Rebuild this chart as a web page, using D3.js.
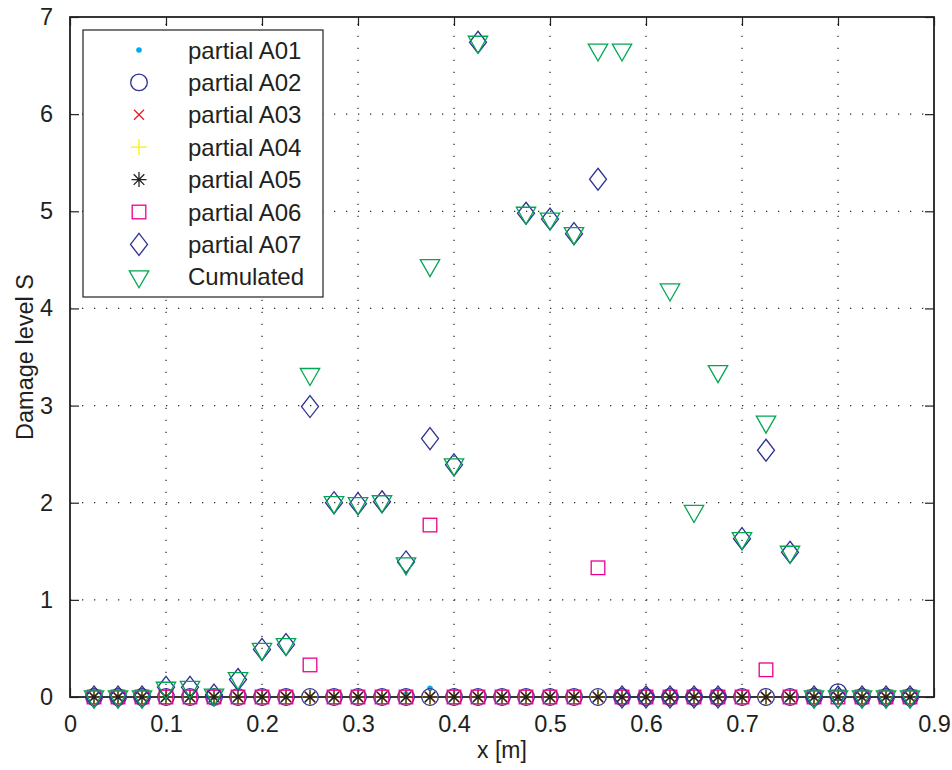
<!DOCTYPE html>
<html>
<head>
<meta charset="utf-8">
<script src="https://cdn.jsdelivr.net/npm/d3@7"></script>
<style>
  body { margin: 0; background: #fff; }
  text { font-family: "Liberation Sans", Arial, Helvetica, sans-serif; fill: #231f20; }
</style>
</head>
<body>
<div id="chart"></div>
<script>
// data
const xs = [0.025, 0.05, 0.075, 0.1, 0.125, 0.15, 0.175, 0.2, 0.225, 0.25, 0.275, 0.3, 0.325, 0.35, 0.375,
            0.4, 0.425, 0.45, 0.475, 0.5, 0.525, 0.55, 0.575, 0.6, 0.625, 0.65, 0.675, 0.7, 0.725, 0.75,
            0.775, 0.8, 0.825, 0.85, 0.875];
const partialA01 = [0, 0, 0, 0, 0, 0, 0, 0, 0, 0, 0, 0, 0, 0.03, 0.09, 0, 0, 0, 0, 0, 0, 0, 0, 0, 0, 0, 0, 0, 0, 0, 0, 0, 0, 0, 0];
const partialA02 = [0, 0, 0, 0, 0, 0, 0, 0, 0, 0, 0, 0, 0, 0, 0, 0, 0, 0, 0, 0, 0, 0, 0, 0, 0, 0, 0, 0, 0, 0, 0, 0.05, 0, 0, 0];
const partialA03 = [0, 0, 0, 0, 0, 0, 0, 0, 0, 0, 0, 0, 0, 0, 0, 0, 0, 0, 0, 0, 0, 0, 0, 0, 0, 0, 0, 0, 0, 0, 0, 0, 0, 0, 0];
const partialA04 = [0, 0, 0, 0, 0, 0, 0, 0, 0, 0, 0, 0, 0, 0, 0, 0, 0, 0, 0, 0, 0, 0, 0, 0, 0, 0, 0, 0, 0, 0, 0, 0, 0, 0, 0];
const partialA05 = [0, 0, 0, 0, 0, 0, 0, 0, 0, 0, 0, 0, 0, 0, 0, 0, 0, 0, 0, 0, 0, 0, 0, 0, 0, 0, 0, 0, 0, 0, 0, 0, 0, 0, 0];
const partialA06 = [0, 0, 0, 0, 0, 0, 0, 0, 0, 0.33, 0, 0, 0, 0, 1.77, 0, 0, 0, 0, 0, 0, 1.33, 0, 0, 0, 0, 0, 0, 0.28, 0, 0, 0, 0, 0, 0];
const partialA07 = [0, 0, 0, 0.1, 0.1, 0.02, 0.18, 0.49, 0.54, 2.99, 2.0, 1.99, 2.01, 1.39, 2.66, 2.39, 6.74, null, 4.98,
                    4.92, 4.77, 5.33, 0, 0, 0, 0, 0, 1.63, 2.54, 1.49, 0, 0, 0, 0, 0];
const cumulated = [0, 0, 0, 0.09, 0.1, 0.02, 0.19, 0.49, 0.54, 3.32, 2.0, 1.99, 2.01, 1.37, 4.44, 2.39, 6.74, null, 4.98,
                   4.92, 4.77, 6.66, 6.66, null, 4.19, 1.91, 3.35, 1.63, 2.83, 1.49, 0, 0, 0, 0, 0];
const seriesNames = ["partial A01", "partial A02", "partial A03", "partial A04", "partial A05", "partial A06", "partial A07", "Cumulated"];
const xTicks = [0, 0.1, 0.2, 0.3, 0.4, 0.5, 0.6, 0.7, 0.8, 0.9];
const yTicks = [0, 1, 2, 3, 4, 5, 6, 7];

// marker style per series (matlab-ish)
const seriesValues = [partialA01, partialA02, partialA03, partialA04, partialA05, partialA06, partialA07, cumulated];
const markerTypes = ["dot", "circle", "x", "plus", "star", "square", "diamond", "triangle"];
const markerColors = ["#00aeef", "#2e3192", "#ed1c24", "#fff200", "#231f20", "#ec008c", "#2e3192", "#00a651"];

const width = 952, height = 770;
const margin = { top: 17, right: 18, bottom: 73, left: 70 };

const svg = d3.select("#chart").append("svg")
    .attr("width", width)
    .attr("height", height);

const x = d3.scaleLinear().domain([0, 0.9]).range([margin.left, width - margin.right]);
const y = d3.scaleLinear().domain([0, 7]).range([height - margin.bottom, margin.top]);

// dotted grid
const grid = svg.append("g")
    .attr("stroke", "#333")
    .attr("stroke-width", 1.3)
    .attr("stroke-dasharray", "1.3,10.7");
grid.selectAll(".gx").data(xTicks.slice(1, -1)).enter().append("line")
    .attr("x1", d => x(d)).attr("x2", d => x(d))
    .attr("y1", y(0)).attr("y2", y(7));
grid.selectAll(".gy").data(yTicks.slice(1, -1)).enter().append("line")
    .attr("x1", x(0)).attr("x2", x(0.9))
    .attr("y1", d => y(d)).attr("y2", d => y(d));

// axes, ticks pointing inward
const fmt = d => String(+d.toFixed(1));
const axB = svg.append("g").attr("transform", "translate(0," + y(0) + ")")
    .call(d3.axisBottom(x).tickValues(xTicks).tickSizeInner(-9).tickSizeOuter(0).tickPadding(18).tickFormat(fmt));
const axL = svg.append("g").attr("transform", "translate(" + x(0) + ",0)")
    .call(d3.axisLeft(y).tickValues(yTicks).tickSizeInner(-9).tickSizeOuter(0).tickPadding(17).tickFormat(fmt));
const axT = svg.append("g").attr("transform", "translate(0," + y(7) + ")")
    .call(d3.axisTop(x).tickValues(xTicks).tickSizeInner(-9).tickSizeOuter(0).tickFormat(""));
const axR = svg.append("g").attr("transform", "translate(" + x(0.9) + ",0)")
    .call(d3.axisRight(y).tickValues(yTicks).tickSizeInner(-9).tickSizeOuter(0).tickFormat(""));

[axB, axL, axT, axR].forEach(a => {
    a.select(".domain").remove();
    a.selectAll(".tick line").attr("stroke", "#231f20").attr("stroke-width", 1.2);
    a.selectAll("text").style("font-size", "23.5px").attr("fill", "#231f20");
});

svg.append("rect")
    .attr("x", x(0)).attr("y", y(7))
    .attr("width", x(0.9) - x(0)).attr("height", y(0) - y(7))
    .attr("fill", "none").attr("stroke", "#231f20").attr("stroke-width", 1.8);

// axis titles
svg.append("text")
    .attr("x", (x(0) + x(0.9)) / 2)
    .attr("y", 758)
    .style("text-anchor", "middle")
    .style("font-size", "23px")
    .text("x [m]");

svg.append("text")
    .attr("transform", "translate(33," + (y(3.5)) + ") rotate(-90)")
    .style("text-anchor", "middle")
    .style("font-size", "23.5px")
    .text("Damage level S");

// marker drawing
function drawMarker(g, type, color) {
    const sw = 1.3;
    if (type === "dot") {
        g.append("circle").attr("r", 2.8).attr("fill", color);
    } else if (type === "circle") {
        g.append("circle").attr("r", 8.3).attr("fill", "none").attr("stroke", color).attr("stroke-width", sw);
    } else if (type === "square") {
        g.append("rect").attr("x", -6.8).attr("y", -6.8).attr("width", 13.6).attr("height", 13.6)
            .attr("fill", "none").attr("stroke", color).attr("stroke-width", sw);
    } else {
        const paths = {
            x: "M-5,-5L5,5M-5,5L5,-5",
            plus: "M-8,0H8M0,-8V8",
            star: "M-7.5,0H7.5M0,-7.5V7.5M-5.3,-5.3L5.3,5.3M-5.3,5.3L5.3,-5.3",
            diamond: "M0,-11L8.5,0L0,11L-8.5,0Z",
            triangle: "M-9.7,-6H9.7L0,11Z"
        };
        g.append("path").attr("d", paths[type])
            .attr("fill", "none").attr("stroke", color).attr("stroke-width", sw)
            .attr("stroke-linejoin", "miter");
    }
}

// points
seriesValues.forEach((vals, si) => {
    const pts = xs.map((xv, i) => ({ x: xv, v: vals[i] })).filter(d => d.v !== null);
    const g = svg.append("g");
    g.selectAll("g")
        .data(pts)
        .enter()
        .append("g")
        .attr("transform", d => "translate(" + x(d.x) + "," + y(d.v) + ")")
        .each(function() { drawMarker(d3.select(this), markerTypes[si], markerColors[si]); });
});

// legend
const legend = svg.append("g");
legend.append("rect")
    .attr("x", 83).attr("y", 30).attr("width", 240).attr("height", 267)
    .attr("fill", "#fff").attr("stroke", "#231f20").attr("stroke-width", 1.2);
seriesNames.forEach((name, i) => {
    const ly = 50 + i * 32.4;
    const mg = legend.append("g").attr("transform", "translate(139," + ly + ")");
    drawMarker(mg, markerTypes[i], markerColors[i]);
    legend.append("text")
        .attr("x", 188).attr("y", ly)
        .attr("dy", "0.36em")
        .style("font-size", "24px")
        .text(name);
});
</script>
</body>
</html>
